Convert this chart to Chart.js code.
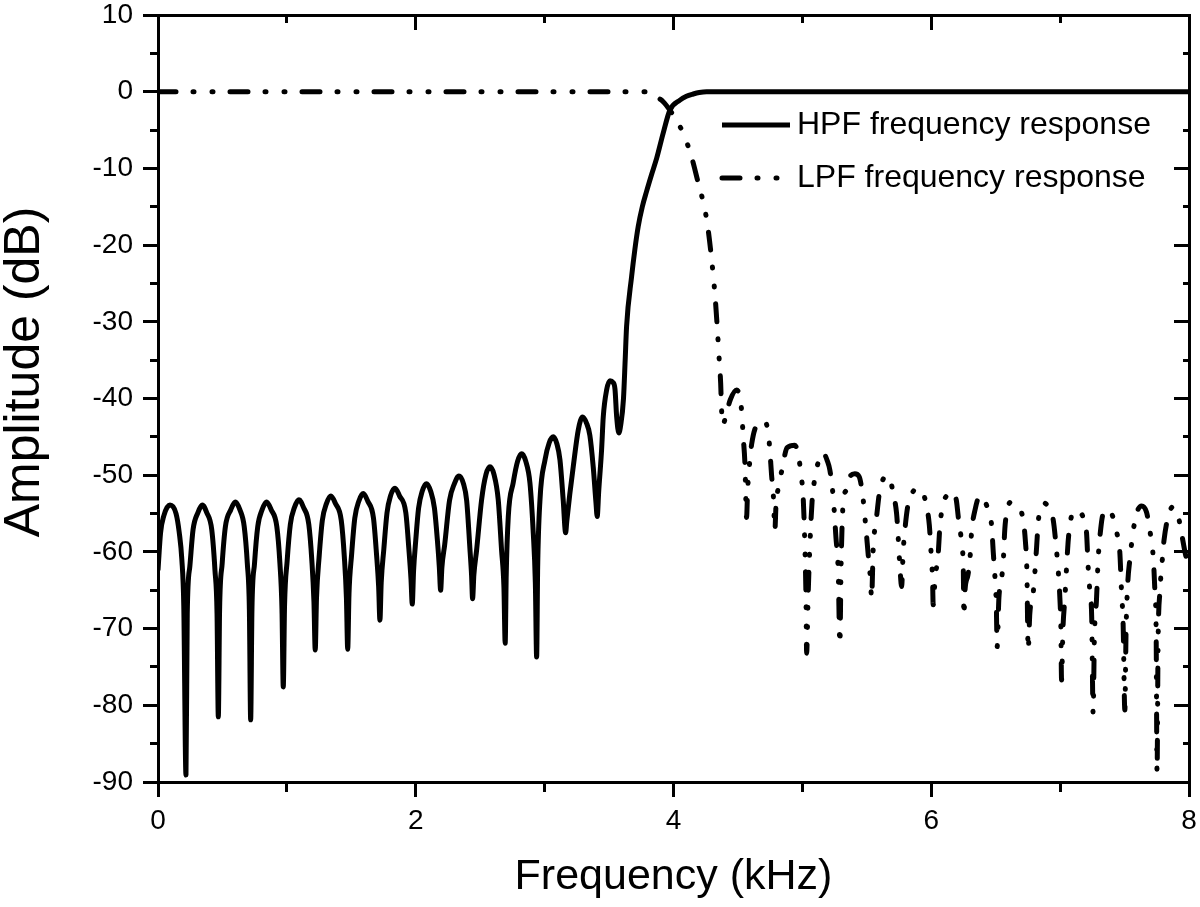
<!DOCTYPE html>
<html>
<head>
<meta charset="utf-8">
<title>HPF / LPF frequency response</title>
<script src="https://cdn.jsdelivr.net/npm/chart.js@4.4.1/dist/chart.umd.min.js"></script>
<style>
  html, body { margin: 0; padding: 0; background: #fff; }
  canvas { display: block; }
</style>
</head>
<body>
<canvas id="respChart" width="1200" height="907"></canvas>
<script>
// HPF response (kHz, dB)
const hpfFreq = [
  0, 0.02, 0.045, 0.093, 0.14, 0.165, 0.185, 0.2, 0.217,
  0.227, 0.247, 0.272, 0.309, 0.344, 0.379, 0.417, 0.442, 0.458, 0.468,
  0.478, 0.498, 0.523, 0.565, 0.600, 0.635, 0.669, 0.693, 0.709, 0.719,
  0.729, 0.749, 0.774, 0.808, 0.843, 0.878, 0.922, 0.946, 0.962, 0.972,
  0.982, 1.002, 1.027, 1.059, 1.094, 1.129, 1.170, 1.194, 1.210, 1.220,
  1.230, 1.250, 1.275, 1.307, 1.342, 1.377, 1.422, 1.446, 1.462, 1.472,
  1.482, 1.502, 1.527, 1.558, 1.593, 1.628, 1.672, 1.696, 1.712, 1.722,
  1.732, 1.752, 1.777, 1.804, 1.839, 1.874, 1.923, 1.947, 1.963, 1.973,
  1.983, 2.000, 2.022, 2.050, 2.083, 2.116, 2.145, 2.168, 2.183, 2.193,
  2.203, 2.225, 2.262, 2.300, 2.335, 2.370, 2.395, 2.420, 2.433, 2.441,
  2.451, 2.472, 2.511, 2.545, 2.576, 2.607, 2.640, 2.666, 2.684, 2.694,
  2.702, 2.718, 2.756, 2.790, 2.822, 2.854, 2.886, 2.912, 2.928, 2.938,
  2.946, 2.964, 3.003, 3.035, 3.067, 3.095, 3.119, 3.144, 3.163,
  3.172, 3.195, 3.222, 3.261, 3.295, 3.325, 3.351, 3.377, 3.398, 3.408,
  3.420, 3.442, 3.455, 3.481, 3.507, 3.530, 3.546, 3.559, 3.576,
  3.590, 3.612, 3.625, 3.636, 3.675, 3.700, 3.726, 3.758, 3.791, 3.830, 3.869, 3.920, 3.972,
  4.050, 4.100, 4.153, 4.200, 4.257, 8
];
const hpfDb = [
  -62.4, -57.5, -55.3, -53.9, -55, -57.5, -61, -67, -89.1,
  -68, -61.9, -57.1, -54.9, -53.9, -54.9, -57.1, -62.4, -68, -81.5,
  -67.5, -61.5, -56.7, -54.5, -53.5, -54.5, -56.7, -61.5, -67.5, -81.9,
  -67.5, -61.5, -56.7, -54.5, -53.5, -54.5, -56.7, -61.5, -67.5, -77.6,
  -67, -61.2, -56.4, -54.2, -53.2, -54.2, -56.4, -61.2, -66.5, -72.8,
  -66, -60.7, -55.9, -53.7, -52.7, -53.7, -55.9, -60.7, -66, -72.7,
  -65.5, -60.4, -55.6, -53.4, -52.4, -53.4, -55.6, -60.4, -64.5, -68.9,
  -64, -59.7, -54.9, -52.7, -51.7, -52.7, -54.9, -59.7, -63.5, -66.8,
  -62.5, -58.5, -54.3, -52.1, -51.1, -52.1, -54.3, -58.5, -62, -65.0,
  -62, -59, -53.3, -51.1, -50.1, -51.1, -53.3, -59.5, -63, -66.1,
  -63, -59.8, -53.2, -49.9, -48.9, -49.9, -53.2, -59.8, -64.5, -71.9,
  -63, -55.4, -51.0, -48.2, -47.2, -48.2, -51.0, -57.6, -64, -73.7,
  -62, -53.2, -48.0, -45.8, -45.0, -45.9, -48.0, -53.2, -57.5,
  -56, -52.5, -48.9, -44.1, -42.4, -43.2, -44.8, -48.9, -53.5, -55.4,
  -52, -46.7, -42.4, -38.9, -37.7, -37.9, -38.8, -42.4, -44.5,
  -43.5, -40, -35, -30.6, -24.1, -20.6, -17.6, -15.0, -13.0, -10.8, -8.7, -5.4, -2.4,
  -1.1, -0.6, -0.3, -0.1, 0, 0
];

// LPF response (kHz, dB)
const lpfFreq = [
  0, 3.78, 3.86, 3.92, 3.972, 4.025, 4.075, 4.140, 4.192, 4.244, 4.269, 4.296, 4.321, 4.339, 4.355, 4.366, 4.372, 4.381,
  4.41, 4.44, 4.49, 4.515, 4.528, 4.541, 4.554, 4.567,
  4.575, 4.590, 4.606, 4.645, 4.709, 4.735, 4.748, 4.761, 4.774, 4.787,
  4.795, 4.815, 4.839, 4.882, 4.942, 4.970, 4.990, 5.006, 5.019, 5.028, 5.033,
  5.045, 5.060, 5.075, 5.091, 5.120, 5.161, 5.195, 5.213, 5.239, 5.260, 5.278, 5.291,
  5.300, 5.317, 5.343, 5.369, 5.407, 5.441, 5.472, 5.493, 5.511, 5.528, 5.537,
  5.550, 5.576, 5.600, 5.615, 5.653, 5.685, 5.705, 5.731, 5.744, 5.757, 5.770,
  5.782, 5.795, 5.821, 5.847, 5.886, 5.925, 5.964, 5.985, 6.000, 6.010, 6.015,
  6.030, 6.054, 6.067, 6.093, 6.130, 6.170, 6.195, 6.210, 6.236, 6.249, 6.253,
  6.262, 6.285, 6.300, 6.313, 6.340, 6.377, 6.429, 6.468, 6.481, 6.494, 6.505, 6.511,
  6.525, 6.545, 6.558, 6.571, 6.590, 6.617, 6.660, 6.687, 6.715, 6.730, 6.742, 6.752,
  6.765, 6.791, 6.817, 6.830, 6.850, 6.873, 6.910, 6.946, 6.972, 6.985, 6.998, 7.006, 7.011,
  7.022, 7.037, 7.062, 7.080, 7.114, 7.150, 7.179, 7.205, 7.217, 7.230, 7.245, 7.256,
  7.266, 7.282, 7.295, 7.315, 7.334, 7.372, 7.411, 7.440, 7.463, 7.476, 7.489, 7.502,
  7.512, 7.525, 7.541, 7.554, 7.585, 7.632, 7.670, 7.696, 7.722, 7.735, 7.745, 7.752,
  7.760, 7.775, 7.793, 7.806, 7.845, 7.877, 7.910, 7.936, 7.975, 8.0
];
const lpfDb = [
  0, 0, -0.6, -1.3, -2.4, -3.8, -5.4, -8.5, -11.9, -15.4, -18.0, -21.9, -26.3, -30.6, -35.0, -38, -41, -43.5,
  -42, -40.2, -38.9, -39.8, -41.5, -45, -48.4, -55.5,
  -52, -48.5, -46, -43.5, -43.0, -44.5, -46.8, -50, -52.4, -57.1,
  -54, -51.5, -49.5, -46.4, -46.1, -47.5, -50, -52.8, -59, -66, -73.2,
  -65.5, -58.5, -53.5, -51, -48.5, -47.1, -48.2, -49.3, -52.8, -58, -62.5, -72.1,
  -62, -53.5, -51.9, -50.2, -49.8, -50.2, -53.2, -56.9, -60.4, -63.5, -66.0,
  -59.5, -55.4, -52, -51, -50.0, -50.8, -52.4, -55, -58.2, -62, -64.5,
  -60, -57.2, -53.7, -52.5, -51.7, -51.9, -54.1, -56.5, -60.5, -63.5, -66.9,
  -63.5, -60.2, -56.7, -53.7, -52.5, -52.2, -53.3, -55.5, -58.9, -62.5, -68.4,
  -65, -63, -61, -57.4, -54.5, -52.7, -53.9, -56.5, -60, -63.2, -67, -72.4,
  -66, -63.5, -61.5, -57, -54.5, -53.5, -53.8, -54.3, -56, -58.5, -62.5, -72.8,
  -68, -65.4, -59.5, -56.1, -54.2, -53.6, -54.2, -55.8, -59.8, -62.4, -66, -70, -76.7,
  -70, -66, -58.7, -56, -54.5, -54.8, -55.5, -57.5, -61.8, -65, -68.5, -81.0,
  -71, -66.3, -61, -57, -55, -54.5, -55.5, -57.5, -60, -65, -69.5, -80.6,
  -70, -64, -61, -59, -55.5, -54.0, -54.8, -57.2, -60.6, -65, -70.5, -88.7,
  -72, -65, -61, -58.5, -55, -54.1, -54.8, -57, -60.5, -62
];

// tick labels shown on the axes
const xTickLabels = [0, 2, 4, 6, 8];
const yTickLabels = [10, 0, -10, -20, -30, -40, -50, -60, -70, -80, -90];

const seriesNames = ['HPF frequency response', 'LPF frequency response'];

Chart.defaults.font.family = "'Liberation Sans', Arial, sans-serif";
Chart.defaults.color = '#000';

const toPoints = (xs, ys) => xs.map((x, i) => ({ x: x, y: ys[i] }));

// major ticks carry a label, minor ones get a short mark
const isMajor = ctx => {
  const v = ctx.tick.value;
  const list = ctx.scale.axis === 'x' ? xTickLabels : yTickLabels;
  return list.some(t => Math.abs(t - v) < 1e-9);
};
// dash that keeps only the 8px of the mark next to the axis line
const nearStart = [8, 100];
const nearEnd = [0, 7, 8, 100];

function frameGrid(len, minorDash) {
  return {
    drawOnChartArea: false,
    tickLength: len,
    tickWidth: 3,
    tickColor: '#000',
    tickBorderDash: ctx => (isMajor(ctx) ? [] : minorDash)
  };
}
const frameBorder = { display: true, color: '#000', width: 3 };

// fixed frame size, no extra room for overhanging labels
function fixSize(w, h) {
  return s => {
    if (w !== null) s.width = w;
    if (h !== null) s.height = h;
    s.paddingTop = 0;
    s.paddingBottom = 0;
    s.paddingLeft = 0;
    s.paddingRight = 0;
  };
}

// legend and y title drawn inside the canvas
const overlay = {
  id: 'overlay',
  afterDraw(chart) {
    const c = chart.ctx;
    const area = chart.chartArea;
    c.save();

    // y axis title
    c.fillStyle = '#000';
    c.font = "50px 'Liberation Sans', Arial, sans-serif";
    c.textAlign = 'center';
    c.textBaseline = 'middle';
    c.translate(area.left - 133, area.top + 357);
    c.rotate(-Math.PI / 2);
    c.fillText('Amplitude (dB)', 0, 0);
    c.restore();

    c.save();
    c.font = "32px 'Liberation Sans', Arial, sans-serif";
    c.textAlign = 'left';
    c.textBaseline = 'middle';
    c.fillStyle = '#000';
    const x0 = area.right - 467;
    const rows = [area.top + 110, area.top + 163];
    chart.data.datasets.forEach((ds, i) => {
      const y = rows[i];
      c.save();
      c.strokeStyle = ds.borderColor;
      c.lineWidth = ds.borderWidth;
      c.lineCap = ds.borderCapStyle || 'butt';
      c.setLineDash(ds.borderDash || []);
      c.beginPath();
      c.moveTo(x0, y);
      c.lineTo(x0 + 68, y);
      c.stroke();
      c.restore();
      c.fillText(ds.label, x0 + 75, y);
    });
    c.restore();
  }
};

const respChart = new Chart(document.getElementById('respChart'), {
  type: 'line',
  data: {
    datasets: [
      {
        label: seriesNames[0],
        data: toPoints(hpfFreq, hpfDb),
        borderColor: '#000',
        borderWidth: 5,
        borderJoinStyle: 'round',
        cubicInterpolationMode: 'monotone',
        pointRadius: 0,
        fill: false
      },
      {
        label: seriesNames[1],
        data: toPoints(lpfFreq, lpfDb),
        borderColor: '#000',
        borderWidth: 5,
        borderDash: [18, 17, 1, 18, 1, 17],
        borderCapStyle: 'round',
        borderJoinStyle: 'round',
        cubicInterpolationMode: 'monotone',
        pointRadius: 0,
        fill: false
      }
    ]
  },
  options: {
    responsive: false,
    animation: false,
    devicePixelRatio: 1,
    layout: { padding: 0 },
    plugins: {
      legend: { display: false },
      tooltip: { enabled: false }
    },
    scales: {
      x: {
        type: 'linear',
        position: 'bottom',
        min: 0,
        max: 8,
        afterFit: fixSize(null, 125),
        grid: frameGrid(15, nearStart),
        border: frameBorder,
        ticks: {
          stepSize: 1,
          autoSkip: false,
          maxRotation: 0,
          padding: 7,
          font: { size: 28 },
          callback: v => (xTickLabels.includes(v) ? String(v) : '')
        },
        title: {
          display: true,
          text: 'Frequency (kHz)',
          font: { size: 43, lineHeight: 1 },
          padding: { top: 0, bottom: 8 }
        }
      },
      x2: {
        type: 'linear',
        position: 'top',
        min: 0,
        max: 8,
        afterFit: fixSize(null, 15),
        grid: frameGrid(-15, nearEnd),
        border: frameBorder,
        ticks: { stepSize: 1, autoSkip: false, display: false }
      },
      y: {
        type: 'linear',
        position: 'left',
        min: -90,
        max: 10,
        afterFit: fixSize(158, null),
        grid: frameGrid(15, nearEnd),
        border: frameBorder,
        ticks: {
          stepSize: 5,
          autoSkip: false,
          padding: 10,
          font: { size: 28 },
          callback: v => (yTickLabels.includes(v) ? String(v) : '')
        }
      },
      y2: {
        type: 'linear',
        position: 'right',
        min: -90,
        max: 10,
        afterFit: fixSize(11, null),
        grid: frameGrid(-15, nearStart),
        border: frameBorder,
        ticks: { stepSize: 5, autoSkip: false, display: false }
      }
    }
  },
  plugins: [overlay]
});
</script>
</body>
</html>
